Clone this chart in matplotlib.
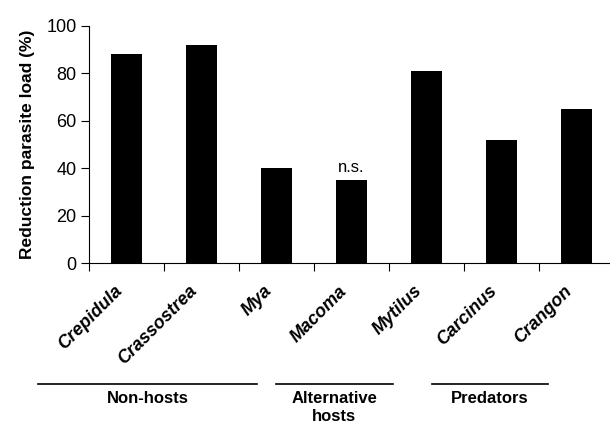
import numpy as np
from matplotlib import pyplot as plt
from matplotlib import transforms

plt.rcParams['font.family'] = ['Liberation Sans', 'DejaVu Sans']

species = ["Crepidula", "Crassostrea", "Mya", "Macoma", "Mytilus", "Carcinus", "Crangon"]
reduction = [88, 92, 40, 35, 81, 52, 65]
groups = ["Non-hosts", "Alternative\nhosts", "Predators"]
group_spans = [(-1.18, 1.74), (1.99, 3.55), (4.07, 5.62)]
yticks = [0, 20, 40, 60, 80, 100]

fig = plt.figure(figsize=(6.1, 4.26), dpi=100)
ax = fig.add_axes([89/610, 1 - 263/426, 1 - 89/610, (263 - 26)/426])

x = np.arange(len(species))
ax.bar(x, reduction, width=0.41, color="black")
ax.text(3, 35 + 2, "n.s.", ha="center", va="bottom", fontsize=12)

ax.set_xlim(-0.5, 6.45)
ax.set_ylim(0, 100)
ax.set_yticks(yticks)
ax.tick_params(axis="y", labelsize=13, length=6, direction="out", pad=3)
ax.set_xticks(np.arange(-0.5, 6.5, 1.0))
ax.set_xticklabels([])
ax.tick_params(axis="x", which="major", length=6, direction="out")
ax.set_xticks(x - 0.17, minor=True)
ax.set_xticklabels(species, minor=True, rotation=45, ha="right", rotation_mode="anchor",
                   fontsize=13, fontweight="bold", fontstyle="italic")
ax.tick_params(axis="x", which="minor", length=0, pad=14)

for s in ["top", "right"]:
    ax.spines[s].set_visible(False)
ax.set_ylabel("Reduction parasite load (%)", fontsize=12.5, fontweight="bold", labelpad=8)

trans = transforms.blended_transform_factory(ax.transData, ax.transAxes)
line_y = (263 - 384) / 237
text_y = (263 - 391) / 237
for name, (a, b) in zip(groups, group_spans):
    ax.plot([a, b], [line_y, line_y], color="black", lw=1.2, transform=trans, clip_on=False)
    ax.text((a + b) / 2, text_y, name, transform=trans, ha="center", va="top",
            fontsize=12, fontweight="bold", linespacing=1.25)

fig.savefig("out.png", dpi=100)
